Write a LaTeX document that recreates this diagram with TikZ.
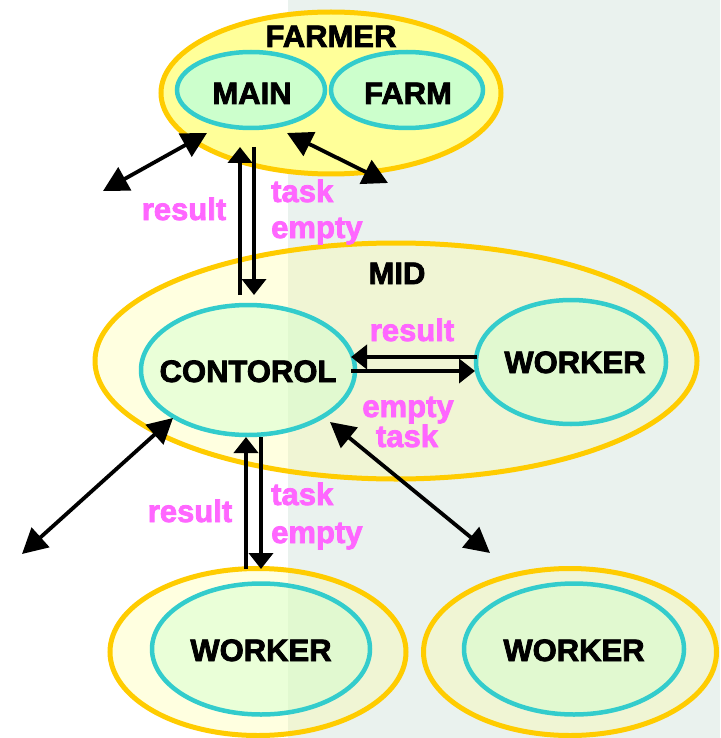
\documentclass[tikz,border=0pt]{standalone}
\usepackage{fontspec}
\setmainfont{Liberation Sans}[BoldFeatures={FakeBold=2.5}]
\usetikzlibrary{shapes.geometric,arrows.meta}
\definecolor{gold}{RGB}{255,204,0}
\definecolor{tealc}{RGB}{51,204,204}
\definecolor{pinkl}{RGB}{255,102,255}
\definecolor{yfill}{RGB}{255,255,153}
\definecolor{gfill}{RGB}{204,255,204}
\definecolor{stripebg}{RGB}{234,242,238}
\begin{document}
\begin{tikzpicture}[x=1pt,y=-1pt,
  outerell/.style={ellipse,draw=gold,line width=5pt,inner sep=0pt},
  innerell/.style={ellipse,draw=tealc,line width=4.5pt,inner sep=0pt},
  solidy/.style={fill=yfill},
  solidg/.style={fill=gfill},
  lighty/.style={fill=yfill,fill opacity=0.3,text opacity=1},
  lightg/.style={fill=gfill,fill opacity=0.4,text opacity=1},
  nametxt/.style={inner sep=0pt,font=\fontsize{31}{36}\selectfont\bfseries,text=black},
  labtxt/.style={inner sep=0pt,font=\fontsize{31}{36}\selectfont\bfseries,text=pinkl},
  conn/.style={line width=3.8pt,-{Triangle[length=16pt,width=24pt]}},
  dblconn/.style={line width=3.8pt,{Triangle[length=25pt,width=26pt]}-{Triangle[length=25pt,width=26pt]}}
]
\useasboundingbox (0,0) rectangle (720,738);
\fill[white] (0,0) rectangle (720,738);
\fill[stripebg] (288,0) rectangle (720,738);

% ellipses
\node[outerell,solidy,minimum width=340pt,minimum height=162pt] (farmer) at (331,93) {};
\node[innerell,solidg,minimum width=148pt,minimum height=76pt] (main) at (251,90) {};
\node[innerell,solidg,minimum width=152pt,minimum height=76pt] (farm) at (407,90) {};

\node[outerell,lighty,minimum width=602pt,minimum height=236pt] (mid) at (396,361) {};
\node[innerell,lightg,minimum width=214pt,minimum height=130pt] (ctrl) at (248,370) {};
\node[innerell,lightg,minimum width=190pt,minimum height=124pt] (wmid) at (571,362) {};

\node[outerell,lighty,minimum width=296pt,minimum height=167pt] (wbl) at (258,652) {};
\node[innerell,lightg,minimum width=218pt,minimum height=131pt] (wbli) at (261,649) {};
\node[outerell,lighty,minimum width=293pt,minimum height=167pt] (wbr) at (570,652) {};
\node[innerell,lightg,minimum width=220pt,minimum height=131pt] (wbri) at (574,649) {};

% names
\node[nametxt,anchor=base] (tfarmer) at (331,47) {FARMER};
\node[nametxt,anchor=base] (tmain) at (252,104) {MAIN};
\node[nametxt,anchor=base] (tfarm) at (408,104) {FARM};
\node[nametxt,anchor=base] (tmid) at (397,284) {MID};
\node[nametxt,anchor=base] (tctrl) at (248,382) {CONTOROL};
\node[nametxt,anchor=base] (twmid) at (575,373) {WORKER};
\node[nametxt,anchor=base] (twbl) at (261,661) {WORKER};
\node[nametxt,anchor=base] (twbr) at (574,661) {WORKER};

% connector end points
\coordinate (fl1) at (207,133);
\coordinate (fl2) at (103,191);
\coordinate (fr1) at (287,133);
\coordinate (fr2) at (388,183);
\coordinate (mu1) at (240,295);
\coordinate (mu2) at (240,147);
\coordinate (md1) at (254,147);
\coordinate (md2) at (254,295);
\coordinate (cw1) at (477,357);
\coordinate (cw2) at (351,357);
\coordinate (cw3) at (351,371);
\coordinate (cw4) at (475,371);
\coordinate (cl1) at (173,418);
\coordinate (cl2) at (22,554);
\coordinate (cr1) at (330,422);
\coordinate (cr2) at (490,553);
\coordinate (bu1) at (246,569);
\coordinate (bu2) at (246,437);
\coordinate (bd1) at (261,437);
\coordinate (bd2) at (261,569);

% connectors
\draw[dblconn] (fl1) -- (fl2);
\draw[dblconn] (fr1) -- (fr2);
\draw[conn] (mu1) -- (mu2);
\draw[conn] (md1) -- (md2);
\draw[conn] (cw1) -- (cw2);
\draw[conn] (cw3) -- (cw4);
\draw[dblconn] (cl1) -- (cl2);
\draw[dblconn] (cr1) -- (cr2);
\draw[conn] (bu1) -- (bu2);
\draw[conn] (bd1) -- (bd2);

% labels
\node[labtxt,anchor=base] (l1) at (184,220) {result};
\node[labtxt,anchor=base west] (l2) at (271,202) {task};
\node[labtxt,anchor=base west] (l3) at (271,238) {empty};
\node[labtxt,anchor=base] (l4) at (412,341) {result};
\node[labtxt,anchor=base] (l5) at (408,417) {empty};
\node[labtxt,anchor=base] (l6) at (407,447) {task};
\node[labtxt,anchor=base] (l7) at (190,522) {result};
\node[labtxt,anchor=base west] (l8) at (271,505) {task};
\node[labtxt,anchor=base west] (l9) at (271,543) {empty};
\end{tikzpicture}
\end{document}
